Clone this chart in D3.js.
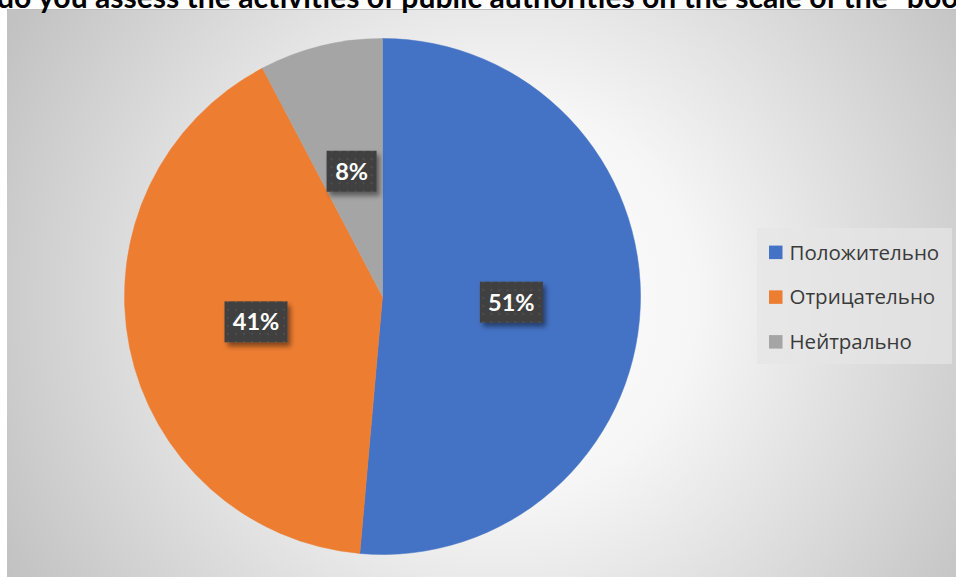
<!DOCTYPE html>
<html><head><meta charset="utf-8">
<script src="https://cdn.jsdelivr.net/npm/d3@7"></script>
<style>html,body{margin:0;padding:0;background:#fff;}svg{display:block;}</style>
</head><body>
<svg id="chart" width="956" height="577"></svg>
<script>
const categories = ["Положительно", "Отрицательно", "Нейтрально"];
const values = [51.4, 40.9, 7.7];
const colors = ["#4472C4", "#ED7D31", "#A5A5A5"];
const titlePrefix = "How ";
const titleVisible = "do you assess the activities of public authorities on the scale of the \u201Cboo";
const titleRest = "k\u201D";

const W = 956, H = 577;
const svg = d3.select("#chart");
const defs = svg.append("defs");

const grad = defs.append("radialGradient").attr("id", "bg")
  .attr("gradientUnits", "userSpaceOnUse")
  .attr("cx", 500).attr("cy", 300).attr("r", 560);
grad.append("stop").attr("offset", "0%").attr("stop-color", "#ffffff");
grad.append("stop").attr("offset", "35%").attr("stop-color", "#f6f6f6");
grad.append("stop").attr("offset", "100%").attr("stop-color", "#c2c2c2");

const pat = defs.append("pattern").attr("id", "dots")
  .attr("patternUnits", "userSpaceOnUse").attr("width", 8).attr("height", 8);
pat.append("rect").attr("width", 8).attr("height", 8).attr("fill", "#404040");
pat.append("rect").attr("x", 3).attr("y", 3).attr("width", 2).attr("height", 2).attr("fill", "#4e4e4e");

const sh = defs.append("filter").attr("id", "shadow")
  .attr("x", "-30%").attr("y", "-30%").attr("width", "170%").attr("height", "170%");
sh.append("feDropShadow").attr("dx", 3).attr("dy", 4).attr("stdDeviation", 2.5)
  .attr("flood-color", "#000").attr("flood-opacity", 0.45);

// chart area
svg.append("rect").attr("x", 7).attr("y", 9).attr("width", W - 7 + 2).attr("height", H - 9 + 2)
  .attr("fill", "url(#bg)");
svg.append("line").attr("x1", 7).attr("x2", W).attr("y1", 9.5).attr("y2", 9.5)
  .attr("stroke", "#bdbdbd").attr("stroke-width", 1);

// title
const title = svg.append("text").attr("y", 7.5)
  .attr("font-family", "Lato, 'Open Sans', sans-serif").attr("font-weight", "bold")
  .attr("font-size", 24).attr("fill", "#000");
const tPre = title.append("tspan").text(titlePrefix);
const tVis = title.append("tspan").text(titleVisible);
title.append("tspan").text(titleRest);
{
  const wVis = tVis.node().getComputedTextLength();
  const fs = 24 * 962 / wVis;
  title.attr("font-size", fs);
  const wPre = tPre.node().getComputedTextLength();
  title.attr("x", -3 - wPre);
}

// pie
const cx = 382.5, cy = 296.5, r = 258;
const pie = d3.pie().sort(null).value(d => d);
const arcs = pie(values);
const arc = d3.arc().innerRadius(0).outerRadius(r);
const labelArc = d3.arc().innerRadius(r / 2).outerRadius(r / 2);
const total = d3.sum(values);
const g = svg.append("g").attr("transform", `translate(${cx},${cy})`);
g.selectAll("path.slice").data(arcs).join("path").attr("class", "slice")
  .attr("d", arc).attr("fill", (d, i) => colors[i])
  .attr("stroke", (d, i) => colors[i]).attr("stroke-width", 0.5);

const lbl = g.selectAll("g.lbl").data(arcs).join("g").attr("class", "lbl")
  .attr("transform", d => `translate(${labelArc.centroid(d)})`);
lbl.each(function (d) {
  const s = d3.select(this);
  const txt = Math.round(d.value / total * 100) + "%";
  const w = txt.length >= 3 ? 63 : 50, h = 41;
  s.append("rect").attr("x", -w / 2).attr("y", -h / 2).attr("width", w).attr("height", h)
    .attr("fill", "url(#dots)").attr("filter", "url(#shadow)");
  s.append("text").attr("text-anchor", "middle").attr("dy", "0.36em")
    .attr("font-family", "Lato, 'Open Sans', sans-serif").attr("font-weight", "bold")
    .attr("font-size", 23.5).attr("fill", "#fff").text(txt);
});

// legend
svg.append("rect").attr("x", 757).attr("y", 228).attr("width", 195).attr("height", 136)
  .attr("fill", "#e6e6e6").attr("opacity", 0.7);
const legend = svg.append("g");
const ly = d3.scalePoint().domain(categories).range([252.3, 341.8]);
const li = legend.selectAll("g").data(categories).join("g")
  .attr("transform", d => `translate(769,${ly(d)})`);
li.append("rect").attr("x", 0).attr("y", -6.7).attr("width", 13.5).attr("height", 13.5)
  .attr("fill", (d, i) => colors[i]);
li.append("text").attr("x", 20.5).attr("y", 7.2)
  .attr("font-family", "'Open Sans', sans-serif").attr("font-size", 20.5)
  .attr("fill", "#3a3a3a").text(d => d);
</script>
</body></html>
